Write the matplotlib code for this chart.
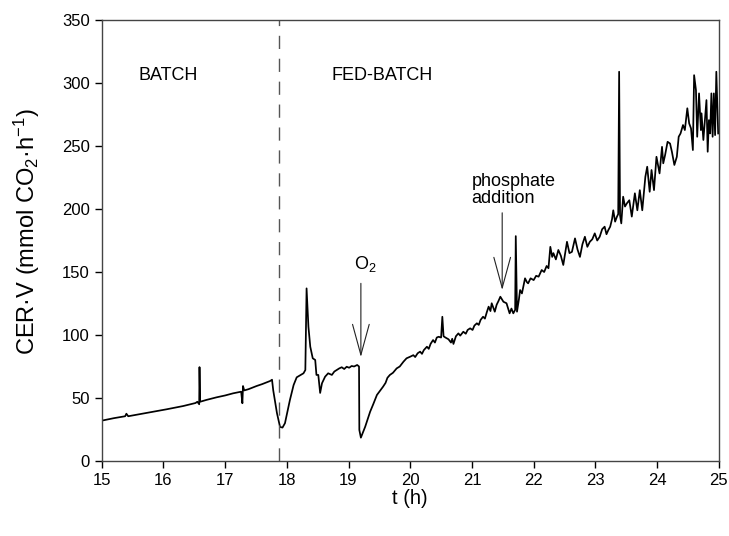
import matplotlib.pyplot as plt

plt.rcParams['font.family'] = ['Liberation Sans', 'DejaVu Sans']
plt.rcParams['mathtext.default'] = 'regular'

# CO2 evolution rate times volume, read along the run
t_h = [15.0, 15.2, 15.38, 15.40, 15.43, 15.6, 15.78, 16.05, 16.32, 16.52,
       16.55, 16.58, 16.585, 16.595, 16.7, 16.86, 17.0, 17.13, 17.26, 17.28,
       17.29, 17.31, 17.38, 17.51, 17.6, 17.73, 17.76, 17.78, 17.84, 17.89,
       17.93, 17.97, 18.0, 18.05, 18.11, 18.16, 18.27, 18.30, 18.32, 18.35,
       18.38, 18.42, 18.46, 18.48, 18.51, 18.54, 18.57, 18.62, 18.67, 18.73,
       18.77, 18.81, 18.85, 18.89, 18.93, 18.97, 19.01, 19.05, 19.09, 19.14,
       19.17, 19.175, 19.20, 19.27, 19.35, 19.40, 19.46, 19.50, 19.56, 19.60,
       19.63, 19.67, 19.72, 19.78, 19.83, 19.89, 19.94, 20.0, 20.05, 20.08,
       20.12, 20.16, 20.19, 20.22, 20.27, 20.30, 20.33, 20.37, 20.40, 20.43,
       20.46, 20.50, 20.52, 20.54, 20.57, 20.62, 20.66, 20.68, 20.70, 20.74,
       20.78, 20.81, 20.86, 20.90, 20.93, 20.97, 21.01, 21.04, 21.08, 21.11,
       21.14, 21.18, 21.21, 21.24, 21.27, 21.30, 21.32, 21.37, 21.40, 21.43,
       21.46, 21.51, 21.56, 21.61, 21.64, 21.67, 21.70, 21.71, 21.73, 21.76,
       21.78, 21.81, 21.86, 21.89, 21.91, 21.95, 22.0, 22.04, 22.08, 22.13,
       22.17, 22.21, 22.24, 22.27, 22.30, 22.32, 22.36, 22.40, 22.44, 22.48,
       22.54, 22.58, 22.62, 22.67, 22.71, 22.75, 22.79, 22.83, 22.87, 22.91,
       22.95, 22.99, 23.03, 23.07, 23.11, 23.15, 23.18, 23.21, 23.24, 23.27,
       23.29, 23.32, 23.35, 23.37, 23.385, 23.40, 23.42, 23.45, 23.48, 23.51,
       23.55, 23.59, 23.64, 23.68, 23.72, 23.76, 23.81, 23.84, 23.88, 23.91,
       23.95, 23.99, 24.04, 24.08, 24.10, 24.13, 24.17, 24.21, 24.24, 24.28,
       24.32, 24.35, 24.38, 24.42, 24.45, 24.49, 24.52, 24.55, 24.58, 24.60,
       24.63, 24.65, 24.68, 24.71, 24.72, 24.75, 24.78, 24.80, 24.82, 24.84,
       24.86, 24.88, 24.90, 24.92, 24.94, 24.96, 24.99]
cer_v = [32, 34, 35.5, 37.5, 35.5, 37, 38.5, 41, 43.6, 46,
         47, 45, 74.5, 47, 48.5, 50.5, 52, 53.7, 55, 45.8,
         59.5, 56, 57, 59.5, 61, 63.5, 64.5, 56, 38, 27,
         26.5, 30, 37, 48.4, 60.3, 66.4, 69.6, 72.2, 137, 106.6,
         90.7, 81.5, 80.2, 68.3, 68.3, 54, 61.7, 66.9, 69.6, 68.3,
         71, 72.2, 73.5, 74.4, 73, 74.8, 74, 75.4, 75, 76.2,
         75, 24.6, 18.5, 27.2, 39.1, 45, 52.4, 55, 59, 62,
         66, 68.3, 70, 73.5, 75, 78.8, 81.5, 82.8, 84, 82.5,
         85.5, 86.8, 85, 88, 90.7, 89, 93, 96, 94, 98,
         98.6, 98, 114.5, 99, 98, 96.6, 94, 97, 92.9, 99,
         101.3, 99.5, 102.6, 101, 104, 105.3, 104, 107.5, 109.3, 108,
         112, 114.5, 113, 118, 122.5, 119, 125.2, 118.5, 124, 127,
         130.4, 126.4, 125.2, 117.2, 121, 117.2, 120, 178.5, 118.5, 128,
         135.7, 133, 145, 142, 141, 145, 143.6, 147, 146.3, 151.6,
         150, 154.8, 153, 170, 162, 165, 160, 167.5, 163, 155.6,
         174, 165, 166, 176.7, 168, 162, 172, 178, 170, 174,
         176, 180.7, 175, 178, 184, 186, 180, 183.3, 186, 192,
         199, 190, 194, 196, 309, 195, 188.6, 209.8, 202, 204.5,
         207, 194, 212.5, 199, 215, 199, 225.6, 233.6, 213.7, 231,
         215, 241.5, 228.3, 249.4, 236.3, 242.9, 253.4, 252, 245.5, 235,
         241.5, 257.4, 260, 266.7, 262.7, 280, 268, 264, 246.8, 306.3,
         294.4, 257.4, 291.8, 262.7, 276, 254.8, 273.3, 286.5, 245.5, 270.6,
         260, 291.8, 257.4, 291.8, 258.7, 309, 260]

fed_batch_start = 17.87
o2_time, o2_tip, o2_tail = 19.2, 82.5, 141
phos_time, phos_tip, phos_tail = 21.49, 135.7, 197

fig = plt.figure(figsize=(7.29, 5.36), dpi=100)
ax = fig.add_axes([0.1395, 0.14, 0.8465, 0.8225])

ax.plot(t_h, cer_v, color='black', lw=1.25)
ax.axvline(fed_batch_start, color='#555555', lw=1.0, linestyle=(0, (9.5, 7)))

ax.text(16.07, 306, 'BATCH', ha='center', va='center', fontsize=13)
ax.text(19.54, 306, 'FED-BATCH', ha='center', va='center', fontsize=13)

arrow = dict(arrowstyle='->,head_length=2.2,head_width=0.6', mutation_scale=10,
             color='#222222', lw=0.8, shrinkA=0, shrinkB=0)
ax.annotate('', xy=(o2_time, o2_tip), xytext=(o2_time, o2_tail), arrowprops=arrow)
ax.text(19.27, 156, 'O$_2$', ha='center', va='center', fontsize=13)
ax.annotate('', xy=(phos_time, phos_tip), xytext=(phos_time, phos_tail), arrowprops=arrow)
ax.text(20.99, 215, 'phosphate\naddition', ha='left', va='center', fontsize=13,
        linespacing=1.0)

ax.set_xlim(15, 25)
ax.set_ylim(0, 350)
ax.set_xticks(range(15, 26))
ax.set_yticks(range(0, 351, 50))
ax.tick_params(direction='out', length=5, width=1, labelsize=12, colors='black')
for s in ax.spines.values():
    s.set_color('#444444')
    s.set_linewidth(1.0)

ax.set_xlabel('t (h)', fontsize=14.5, va='center')
ax.set_ylabel('CER·V (mmol CO$_2$·h$^{-1}$)', fontsize=17, va='center')
ax.xaxis.set_label_coords(0.5, -0.085)
ax.yaxis.set_label_coords(-0.121, 0.52)

fig.savefig('out.png', dpi=100)
